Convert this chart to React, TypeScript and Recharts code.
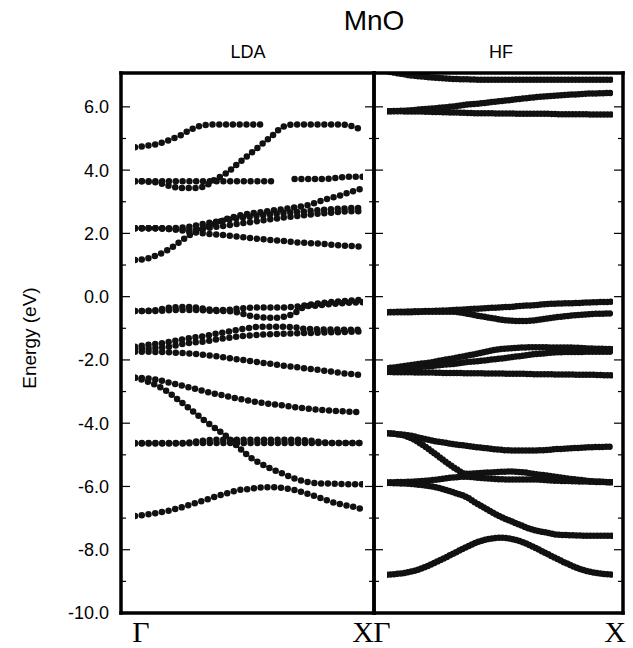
import React from 'react';
import { LineChart, Line, XAxis, YAxis } from 'recharts';

// k along Gamma -> X, same grid for every band
const K = [0, 0.05, 0.1, 0.15, 0.2, 0.25, 0.3, 0.35, 0.4, 0.45, 0.5, 0.55, 0.6, 0.65, 0.7, 0.75, 0.8, 0.85, 0.9, 0.95, 1];

// LDA bands (eV)
const ldaA = [4.72, 4.77, 4.83, 4.95, 5.1, 5.3, 5.42, 5.44, 5.44, 5.44, 5.44, 5.44, null, null, null, null, null, null, null, null, null];
const ldaB = [3.65, 3.64, 3.6, 3.5, 3.44, 3.43, 3.47, 3.7, 3.9, 4.2, 4.49, 4.78, 5.08, 5.37, 5.44, 5.44, 5.44, 5.44, 5.44, 5.39, 5.26];
const ldaC = [3.65, 3.65, 3.65, 3.65, 3.65, 3.65, 3.65, 3.65, 3.65, 3.65, 3.65, 3.65, 3.65, null, 3.72, 3.72, 3.72, 3.73, 3.77, 3.79, 3.79];
const ldaD = [1.16, 1.2, 1.32, 1.5, 1.75, 1.99, 2.15, 2.3, 2.45, 2.55, 2.62, 2.67, 2.72, 2.77, 2.82, 2.88, 2.99, 3.1, 3.2, 3.32, 3.42];
const ldaE = [2.16, 2.16, 2.16, 2.14, 2.1, 2.04, 2.0, 1.97, 1.94, 1.9, 1.86, 1.82, 1.79, 1.76, 1.72, 1.7, 1.68, 1.65, 1.62, 1.6, 1.58];
const ldaF = [2.16, 2.16, 2.16, 2.16, 2.18, 2.22, 2.3, 2.36, 2.42, 2.48, 2.52, 2.56, 2.6, 2.64, 2.67, 2.7, 2.73, 2.76, 2.78, 2.8, 2.8];
const ldaG = [2.16, 2.16, 2.16, 2.14, 2.12, 2.12, 2.15, 2.2, 2.25, 2.3, 2.35, 2.4, 2.45, 2.5, 2.54, 2.58, 2.62, 2.65, 2.68, 2.7, 2.7];
const ldaH1 = [-0.45, -0.45, -0.42, -0.35, -0.33, -0.33, -0.38, -0.42, -0.42, -0.38, -0.35, -0.34, -0.34, -0.34, -0.32, -0.27, -0.22, -0.18, -0.15, -0.12, -0.1];
const ldaH2 = [-0.45, -0.45, -0.45, -0.43, -0.42, -0.42, -0.43, -0.45, -0.45, -0.5, -0.6, -0.65, -0.67, -0.64, -0.52, -0.3, -0.28, -0.24, -0.21, -0.19, -0.18];
const ldaI1 = [-1.58, -1.53, -1.49, -1.43, -1.36, -1.3, -1.25, -1.18, -1.12, -1.05, -0.99, -0.95, -0.95, -0.95, -0.97, -1.02, -1.03, -1.04, -1.04, -1.05, -1.05];
const ldaI2 = [-1.65, -1.64, -1.62, -1.58, -1.51, -1.45, -1.42, -1.36, -1.31, -1.26, -1.23, -1.2, -1.19, -1.17, -1.16, -1.15, -1.14, -1.13, -1.12, -1.11, -1.1];
const ldaI3 = [-1.74, -1.74, -1.75, -1.76, -1.78, -1.8, -1.84, -1.88, -1.93, -1.98, -2.03, -2.08, -2.13, -2.18, -2.22, -2.27, -2.31, -2.36, -2.41, -2.45, -2.49];
const ldaJ = [-2.56, -2.58, -2.63, -2.72, -2.8, -2.89, -2.98, -3.07, -3.14, -3.22, -3.29, -3.35, -3.4, -3.44, -3.49, -3.53, -3.57, -3.6, -3.62, -3.64, -3.65];
const ldaK = [-2.56, -2.67, -2.82, -3.04, -3.32, -3.6, -3.89, -4.15, -4.41, -4.73, -5.05, -5.27, -5.45, -5.6, -5.75, -5.85, -5.9, -5.91, -5.92, -5.93, -5.93];
const ldaL1 = [-4.64, -4.64, -4.64, -4.64, -4.64, -4.63, -4.63, -4.63, -4.63, -4.63, -4.63, -4.63, -4.63, -4.63, -4.63, -4.63, -4.63, -4.63, -4.63, -4.63, -4.63];
const ldaL2 = [-4.63, -4.63, -4.63, -4.63, -4.63, -4.6, -4.55, -4.52, -4.52, -4.52, -4.52, -4.52, -4.52, -4.52, -4.52, -4.54, -4.58, -4.62, -4.63, -4.63, -4.63];
const ldaM = [-6.93, -6.89, -6.83, -6.76, -6.67, -6.56, -6.45, -6.33, -6.22, -6.12, -6.08, -6.03, -6.02, -6.05, -6.11, -6.22, -6.33, -6.46, -6.56, -6.63, -6.72];

// HF bands (eV)
const hfN = [7.12, 7.06, 7.0, 6.96, 6.93, 6.9, 6.88, 6.87, 6.86, 6.86, 6.86, 6.86, 6.86, 6.86, 6.86, 6.86, 6.86, 6.86, 6.86, 6.86, 6.86];
const hfO = [5.86, 5.87, 5.89, 5.92, 5.95, 5.98, 6.02, 6.07, 6.1, 6.14, 6.18, 6.22, 6.26, 6.3, 6.33, 6.36, 6.38, 6.4, 6.42, 6.43, 6.44];
const hfP = [5.86, 5.86, 5.85, 5.85, 5.84, 5.83, 5.82, 5.81, 5.8, 5.8, 5.79, 5.79, 5.78, 5.78, 5.78, 5.77, 5.77, 5.77, 5.76, 5.76, 5.76];
const hfQ1 = [-0.49, -0.48, -0.47, -0.46, -0.45, -0.44, -0.42, -0.4, -0.38, -0.36, -0.34, -0.32, -0.29, -0.27, -0.24, -0.22, -0.21, -0.2, -0.18, -0.17, -0.16];
const hfQ2 = [-0.49, -0.49, -0.49, -0.48, -0.48, -0.48, -0.48, -0.53, -0.6, -0.66, -0.72, -0.76, -0.77, -0.75, -0.7, -0.65, -0.61, -0.58, -0.55, -0.54, -0.53];
const hfR1 = [-2.26, -2.22, -2.17, -2.12, -2.07, -2.0, -1.94, -1.87, -1.8, -1.72, -1.66, -1.63, -1.61, -1.6, -1.6, -1.61, -1.61, -1.62, -1.64, -1.65, -1.66];
const hfR2 = [-2.32, -2.29, -2.26, -2.22, -2.19, -2.15, -2.12, -2.07, -2.04, -2.0, -1.96, -1.91, -1.87, -1.82, -1.79, -1.76, -1.75, -1.75, -1.74, -1.74, -1.74];
const hfR3 = [-2.38, -2.39, -2.39, -2.4, -2.4, -2.41, -2.41, -2.42, -2.42, -2.43, -2.43, -2.44, -2.44, -2.45, -2.45, -2.46, -2.46, -2.47, -2.47, -2.48, -2.49];
const hfS = [-4.32, -4.35, -4.39, -4.47, -4.55, -4.61, -4.67, -4.71, -4.76, -4.8, -4.84, -4.86, -4.86, -4.86, -4.85, -4.82, -4.8, -4.78, -4.76, -4.75, -4.74];
const hfT = [-4.32, -4.35, -4.45, -4.65, -4.9, -5.17, -5.42, -5.6, -5.58, -5.56, -5.54, -5.53, -5.55, -5.6, -5.65, -5.7, -5.75, -5.79, -5.83, -5.85, -5.87];
const hfU = [-5.87, -5.86, -5.85, -5.83, -5.8, -5.75, -5.71, -5.69, -5.72, -5.75, -5.77, -5.78, -5.78, -5.78, -5.8, -5.82, -5.83, -5.84, -5.85, -5.86, -5.87];
const hfV = [-5.89, -5.9, -5.92, -5.95, -6.0, -6.09, -6.2, -6.33, -6.55, -6.75, -6.95, -7.1, -7.25, -7.38, -7.45, -7.52, -7.54, -7.55, -7.56, -7.56, -7.56];
const hfW = [-8.79, -8.76, -8.7, -8.6, -8.45, -8.28, -8.1, -7.92, -7.76, -7.66, -7.62, -7.66, -7.76, -7.92, -8.1, -8.28, -8.45, -8.6, -8.7, -8.76, -8.79];

const LDA_BANDS = [ldaA, ldaB, ldaC, ldaD, ldaE, ldaF, ldaG, ldaH1, ldaH2, ldaI1, ldaI2, ldaI3, ldaJ, ldaK, ldaL1, ldaL2, ldaM];
const HF_BANDS = [hfN, hfO, hfP, hfQ1, hfQ2, hfR1, hfR2, hfR3, hfS, hfT, hfU, hfV, hfW];

const Y_TICKS = [-10, -9, -8, -7, -6, -5, -4, -3, -2, -1, 0, 1, 2, 3, 4, 5, 6];
const Y_DOMAIN: [number, number] = [-10, 7.07];
const K_LABELS = ['Γ', 'X'];

const AXIS_LINE = { stroke: '#000', strokeWidth: 3.5, strokeLinecap: 'square' as const };
const SANS = '"Liberation Sans", Arial, Helvetica, sans-serif';

const buildRows = (bands: (number | null)[][]) =>
  K.map((k, i) => {
    const row: Record<string, number | null> = { k };
    bands.forEach((b, j) => {
      row['b' + j] = b[i];
    });
    return row;
  });

const tickLen = (v: number) => (v % 2 === 0 ? 9 : 5);

interface PanelProps {
  bands: (number | null)[][];
  left: number;
  width: number;
  margin: { top: number; right: number; bottom: number; left: number };
  pad: { left: number; right: number };
  labelDx: number[];
  showValues: boolean;
  gap: number;
}

// axes of size 0 are not drawn by recharts, so each axis gets 1px and the margins absorb it
const Panel = ({ bands, left, width, margin, pad, labelDx, showValues, gap }: PanelProps) => {
  const rows = buildRows(bands);
  return (
    <div style={{ position: 'absolute', left, top: 0 }}>
      <LineChart width={width} height={648} data={rows} margin={margin}>
        <XAxis
          dataKey="k"
          type="number"
          domain={[0, 1]}
          ticks={[0, 1]}
          interval={0}
          padding={pad}
          height={1}
          tickSize={0}
          tickMargin={0}
          allowDataOverflow
          axisLine={AXIS_LINE}
          tickLine={false}
          tick={(p: any) => (
            <text
              x={p.x + labelDx[p.index]}
              y={p.y + 29}
              textAnchor="middle"
              fontSize={30}
              fontFamily='"Liberation Serif", "Times New Roman", serif'
              fill="#000"
            >
              {K_LABELS[p.index]}
            </text>
          )}
        />
        <XAxis
          xAxisId="top"
          orientation="top"
          dataKey="k"
          type="number"
          domain={[0, 1]}
          height={1}
          tick={false}
          tickLine={false}
          axisLine={AXIS_LINE}
        />
        <YAxis
          type="number"
          domain={Y_DOMAIN}
          ticks={Y_TICKS}
          interval={0}
          width={1}
          tickSize={0}
          tickMargin={0}
          allowDataOverflow
          axisLine={AXIS_LINE}
          tickLine={false}
          tick={(p: any) => {
            const v = p.payload.value;
            return (
              <g>
                <line x1={p.x} x2={p.x + tickLen(v)} y1={p.y} y2={p.y} stroke="#000" strokeWidth={1.2} />
                {showValues && v % 2 === 0 && (
                  <text x={p.x - 12} y={p.y} dy="0.36em" textAnchor="end" fontSize={18} fontFamily={SANS} fill="#000">
                    {v.toFixed(1)}
                  </text>
                )}
              </g>
            );
          }}
        />
        <YAxis
          yAxisId="r"
          orientation="right"
          type="number"
          domain={Y_DOMAIN}
          ticks={Y_TICKS}
          interval={0}
          width={1}
          tickSize={0}
          tickMargin={0}
          allowDataOverflow
          axisLine={AXIS_LINE}
          tickLine={false}
          tick={(p: any) => {
            const v = p.payload.value;
            return <line x1={p.x} x2={p.x - tickLen(v)} y1={p.y} y2={p.y} stroke="#000" strokeWidth={1.2} />;
          }}
        />
        {bands.map((_, j) => (
          <Line
            key={j}
            dataKey={'b' + j}
            type="monotone"
            stroke="#111"
            strokeWidth={6.5}
            strokeDasharray={`0 ${gap}`}
            strokeLinecap="round"
            dot={false}
            activeDot={false}
            connectNulls={false}
            isAnimationActive={false}
          />
        ))}
      </LineChart>
    </div>
  );
};

export default function App() {
  return (
    <div style={{ position: 'absolute', left: 0, top: 0, width: 633, height: 648, background: '#fff', fontFamily: SANS }}>
      <svg width={633} height={648} style={{ position: 'absolute', left: 0, top: 0 }}>
        <text x={374} y={30} textAnchor="middle" fontSize={28} fontFamily={SANS} fill="#000">MnO</text>
        <text x={248} y={58} textAnchor="middle" fontSize={18} fontFamily={SANS} fill="#000">LDA</text>
        <text x={501} y={58} textAnchor="middle" fontSize={18} fontFamily={SANS} fill="#000">HF</text>
        <text transform="translate(36,338) rotate(-90)" textAnchor="middle" fontSize={19} fontFamily={SANS} fill="#000">
          Energy (eV)
        </text>
      </svg>
      <Panel
        bands={LDA_BANDS}
        left={0}
        width={378}
        margin={{ top: 72, right: 3, bottom: 34, left: 120 }}
        pad={{ left: 14, right: 11 }}
        labelDx={[6, 0]}
        showValues
        gap={6.8}
      />
      <Panel
        bands={HF_BANDS}
        left={370}
        width={263}
        margin={{ top: 72, right: 9, bottom: 34, left: 3 }}
        pad={{ left: 13, right: 10 }}
        labelDx={[-5, 2]}
        showValues={false}
        gap={3.5}
      />
    </div>
  );
}
